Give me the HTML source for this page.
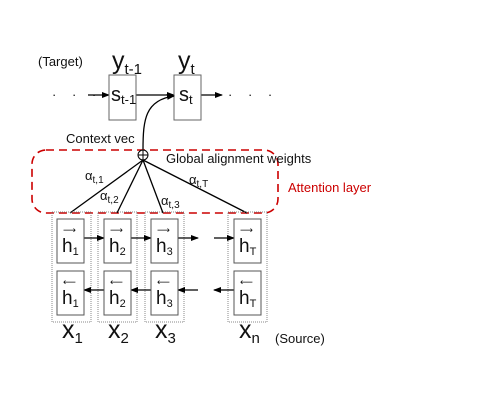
<!DOCTYPE html>
<html><head><style>body{margin:0;background:#fff}svg{display:block}text{font-family:"Liberation Sans","DejaVu Sans",sans-serif;fill:#111}</style></head><body>
<svg width="500" height="400" viewBox="0 0 500 400" xmlns="http://www.w3.org/2000/svg">
<defs><marker id="a" markerWidth="8" markerHeight="6" refX="7" refY="3" orient="auto" markerUnits="userSpaceOnUse"><path d="M0,0 L8,3 L0,6 z" fill="#000"/></marker></defs>
<text x="38" y="66" font-size="13">(Target)</text>
<text x="112" y="69" font-size="25">y<tspan font-size="15" dy="5">t-1</tspan></text>
<text x="178" y="69" font-size="25">y<tspan font-size="15" dy="5">t</tspan></text>
<text x="52" y="99" font-size="13" letter-spacing="6">· · ·</text>
<text x="228" y="99" font-size="13" letter-spacing="6">· · ·</text>
<line x1="88" y1="95" x2="109" y2="95" stroke="#000" stroke-width="1.3" marker-end="url(#a)"/>
<line x1="136" y1="95" x2="174" y2="95" stroke="#000" stroke-width="1.3" marker-end="url(#a)"/>
<line x1="201" y1="95" x2="222" y2="95" stroke="#000" stroke-width="1.3" marker-end="url(#a)"/>
<rect x="109" y="75" width="27" height="45" fill="#fff" stroke="#666" stroke-width="1"/>
<rect x="174" y="75" width="27" height="45" fill="#fff" stroke="#666" stroke-width="1"/>
<text x="111" y="101" font-size="20">s<tspan font-size="13" dy="3">t-1</tspan></text>
<text x="179" y="101" font-size="20">s<tspan font-size="13" dy="3">t</tspan></text>
<path d="M143,150 C143,120 145,100 174,96" fill="none" stroke="#000" stroke-width="1.3" marker-end="url(#a)"/>
<text x="66" y="143" font-size="13">Context vec</text>
<rect x="32" y="150" width="246" height="63" rx="14" fill="none" stroke="#c00" stroke-width="1.6" stroke-dasharray="8,5"/>
<text x="166" y="163" font-size="13">Global alignment weights</text>
<text x="288" y="192" font-size="13" style="fill:#c00">Attention layer</text>
<g stroke="#000" stroke-width="1.3"><line x1="143" y1="160" x2="70" y2="213"/><line x1="143" y1="160" x2="117" y2="213"/><line x1="143" y1="160" x2="163" y2="213"/><line x1="143" y1="160" x2="247" y2="213"/></g>
<circle cx="143" cy="155" r="5" fill="#fff" stroke="#000" stroke-width="1"/><line x1="138" y1="155" x2="148" y2="155" stroke="#000"/><line x1="143" y1="150" x2="143" y2="160" stroke="#000"/>
<text x="85" y="180" font-size="13">α<tspan font-size="10" dy="3">t,1</tspan></text>
<text x="100" y="200" font-size="13">α<tspan font-size="10" dy="3">t,2</tspan></text>
<text x="161" y="205" font-size="13">α<tspan font-size="10" dy="3">t,3</tspan></text>
<text x="189" y="184" font-size="13">α<tspan font-size="10" dy="3">t,T</tspan></text>
<g fill="none" stroke="#888" stroke-width="1" stroke-dasharray="1,1">
<rect x="52" y="212" width="39" height="110"/><rect x="98" y="212" width="39" height="110"/><rect x="145" y="212" width="39" height="110"/><rect x="228" y="212" width="39" height="110"/></g>
<g stroke="#000" stroke-width="1.3">
<line x1="84" y1="238" x2="104" y2="238" marker-end="url(#a)"/><line x1="131" y1="238" x2="151" y2="238" marker-end="url(#a)"/><line x1="178" y1="238" x2="198" y2="238" marker-end="url(#a)"/><line x1="214" y1="238" x2="234" y2="238" marker-end="url(#a)"/>
<line x1="104" y1="290" x2="84" y2="290" marker-end="url(#a)"/><line x1="151" y1="290" x2="131" y2="290" marker-end="url(#a)"/><line x1="198" y1="290" x2="178" y2="290" marker-end="url(#a)"/><line x1="234" y1="290" x2="214" y2="290" marker-end="url(#a)"/></g>
<g fill="#fff" stroke="#555" stroke-width="1">
<rect x="57" y="219" width="27" height="44"/><rect x="104" y="219" width="27" height="44"/><rect x="151" y="219" width="27" height="44"/><rect x="234" y="219" width="27" height="44"/>
<rect x="57" y="271" width="27" height="44"/><rect x="104" y="271" width="27" height="44"/><rect x="151" y="271" width="27" height="44"/><rect x="234" y="271" width="27" height="44"/></g>
<g font-size="19">
<text x="62" y="252">h<tspan font-size="11" dy="3">1</tspan></text><text x="109" y="252">h<tspan font-size="11" dy="3">2</tspan></text><text x="156" y="252">h<tspan font-size="11" dy="3">3</tspan></text><text x="239" y="252">h<tspan font-size="11" dy="3">T</tspan></text>
<text x="62" y="304">h<tspan font-size="11" dy="3">1</tspan></text><text x="109" y="304">h<tspan font-size="11" dy="3">2</tspan></text><text x="156" y="304">h<tspan font-size="11" dy="3">3</tspan></text><text x="239" y="304">h<tspan font-size="11" dy="3">T</tspan></text></g>
<g fill="#000" font-size="9">
<text x="63" y="233">⟶</text><text x="110" y="233">⟶</text><text x="157" y="233">⟶</text><text x="240" y="233">⟶</text>
<text x="63" y="285">⟵</text><text x="110" y="285">⟵</text><text x="157" y="285">⟵</text><text x="240" y="285">⟵</text></g>
<g font-size="25"><text x="62" y="338">x<tspan font-size="15" dy="5">1</tspan></text><text x="108" y="338">x<tspan font-size="15" dy="5">2</tspan></text><text x="155" y="338">x<tspan font-size="15" dy="5">3</tspan></text><text x="239" y="338">x<tspan font-size="15" dy="5">n</tspan></text></g>
<text x="275" y="343" font-size="13">(Source)</text>
</svg>
</body></html>
